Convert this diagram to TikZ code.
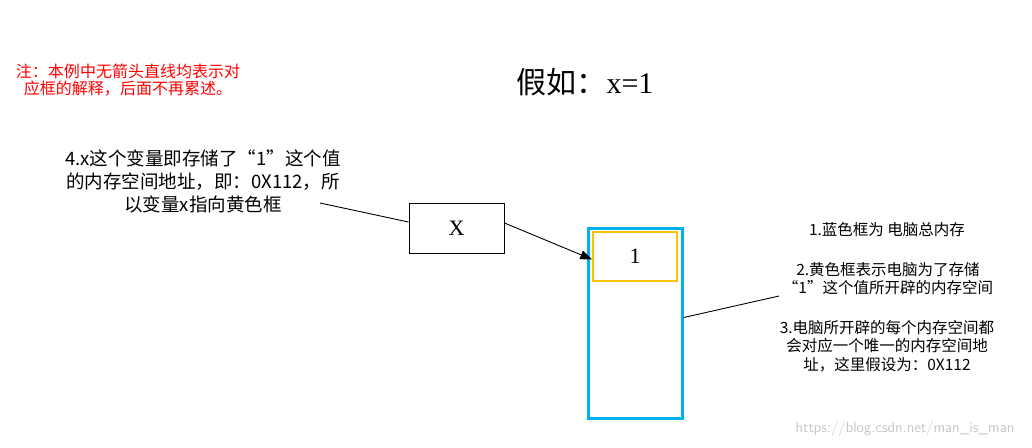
\documentclass[tikz,border=0pt]{standalone}
\usepackage{fontspec}
\setmainfont{Liberation Serif}
\newfontfamily\cjk{Noto Sans CJK SC}
\usetikzlibrary{arrows.meta}
\definecolor{memblue}{RGB}{0,176,240}
\definecolor{memyellow}{RGB}{255,192,0}
\begin{document}
\begin{tikzpicture}[x=1pt,y=-1pt,
  varbox/.style={draw,line width=1pt,minimum width=95pt,minimum height=50pt,inner sep=0pt,font=\fontsize{22}{26}\selectfont},
  explain/.style={align=center,inner sep=0pt,font=\cjk\fontsize{15.5}{18.5}\selectfont},
  link/.style={line width=0.9pt}]
\useasboundingbox (0,0) rectangle (1032,447);

\node[align=center,inner sep=0pt,text=red,font=\cjk\fontsize{16}{17}\selectfont] (remark) at (128,80)
  {注：本例中无箭头直线均表示对\\应框的解释，后面不再累述。};
\node[font=\fontsize{30}{34}\selectfont] (title) at (585,82) {{\cjk 假如：}x=1};

\node[align=center,inner sep=0pt,font=\cjk\fontsize{18.5}{23}\selectfont] (varnote) at (203,181)
  {4.x这个变量即存储了“1”这个值\\的内存空间地址，即：0X112，所\\以变量x指向黄色框};
\coordinate (varnoteend) at (320,203);

\node[varbox] (xbox) at (456.5,228) {X};
\node[draw=memblue,line width=2.5pt,minimum width=94pt,minimum height=190pt,inner sep=0pt] (memory) at (635.5,323.5) {};
\node[varbox,draw=memyellow,line width=1.5pt,minimum width=84pt,minimum height=49pt] (cell) at (635,256.5) {1};

\node[explain] (total) at (887,230) {1.蓝色框为 电脑总内存};
\node[explain] (space) at (888,278.5) {2.黄色框表示电脑为了存储\\“1”这个值所开辟的内存空间};
\node[explain] (address) at (887,346) {3.电脑所开辟的每个内存空间都\\会对应一个唯一的内存空间地\\址，这里假设为：0X112};
\coordinate (spaceend) at (779,296);

\node[text=black!22,font=\sffamily\fontsize{15}{18}\selectfont] (mark) at (905,429) {https://blog.csdn.net/man\_is\_man};

\draw[link] (varnoteend) -- ([yshift=6pt]xbox.west);
\draw[link,-{Triangle[length=12pt,width=9pt]}] ([yshift=5pt]xbox.east) -- ([yshift=-3pt]cell.west);
\draw[link] ([yshift=6pt]memory.east) -- (spaceend);
\end{tikzpicture}
\end{document}
